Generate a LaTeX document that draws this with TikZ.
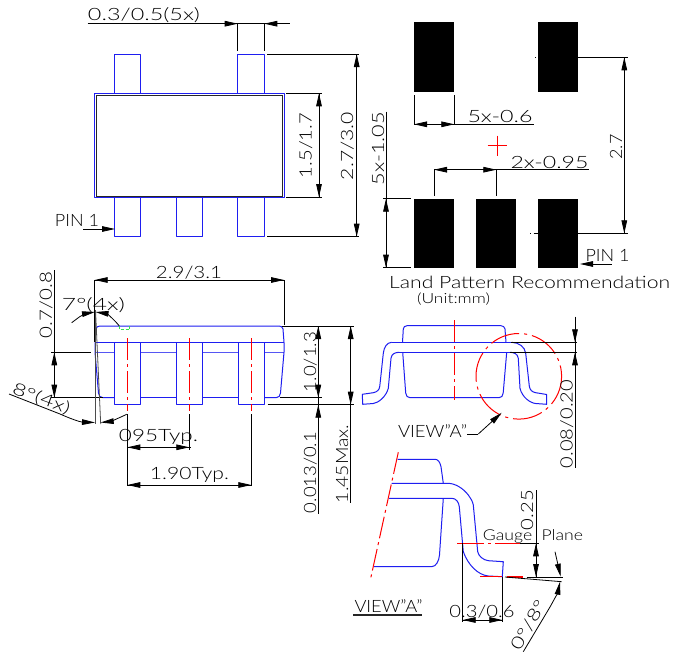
\documentclass[tikz,border=0pt]{standalone}
\usepackage{fontspec}
\usepackage{graphicx}
\setmainfont{Lato}[UprightFont=* Light]
\usetikzlibrary{arrows.meta}
\definecolor{cadblue}{RGB}{30,30,240}
\definecolor{cadred}{RGB}{255,0,0}
\definecolor{cadgreen}{RGB}{50,225,80}
\newcommand{\fitw}[2]{\resizebox{#1pt}{\height}{#2}}
\tikzset{
  dimline/.style={draw=black,line width=0.8pt},
  bluel/.style={draw=cadblue,line width=1pt,line join=round},
  redcl/.style={draw=cadred,line width=1pt,dash pattern=on 22pt off 4pt on 3pt off 4pt},
  redsolid/.style={draw=cadred,line width=1.3pt},
  tipped/.style={dimline,-{Triangle[length=13pt,width=5.6pt]}},
  txt/.style={inner sep=0pt,outer sep=0pt,text height=12pt,text depth=0pt,font=\fontsize{17}{17}\selectfont,text=black},
  smalltxt/.style={txt,text height=9.5pt,font=\fontsize{14}{14}\selectfont},
  pad/.style={fill=black,draw=none},
}
\begin{document}
\begin{tikzpicture}[x=1pt,y=-1pt]
\useasboundingbox (0,0) rectangle (673,653);
\fill[white] (0,0) rectangle (673,653);

% ---------- top view ----------
\foreach \xa/\xb in {114/140.3,237.7/264.3}
  \draw[bluel] (\xa,93.3) -- (\xa,54) -- (\xb,54) -- (\xb,93.3);
\foreach \xa/\xb in {114/140.3,176/202.3,237.7/264.3}
  \draw[bluel] (\xa,197.3) -- (\xa,236.7) -- (\xb,236.7) -- (\xb,197.3);
\draw[bluel] (94.7,93.3) rectangle (284,197.3);
\draw[draw=black!85,line width=1pt] (96,95) rectangle (282.3,196.5);

\node[txt] (t03) at (144,14.5) {\fitw{112}{0.3/0.5(5x)}};
\draw[dimline] (87.7,23.7) -- (290,23.7);
\draw[dimline] (237.7,23.7) -- (237.7,51);
\draw[dimline] (264.3,23.7) -- (264.3,51);
\draw[tipped] (224,23.7) -- (237.7,23.7);
\draw[tipped] (278,23.7) -- (264.3,23.7);

\draw[dimline] (267,54) -- (359,54);
\draw[dimline] (267,236.7) -- (359,236.7);
\draw[tipped] (356.7,70) -- (356.7,54);
\draw[tipped] (356.7,220) -- (356.7,236.7);
\draw[dimline] (356.7,54) -- (356.7,236.7);
\node[txt,rotate=90] (t27) at (347,146) {\fitw{68}{2.7/3.0}};

\draw[dimline] (286,93.3) -- (322,93.3);
\draw[dimline] (286,197) -- (322,197);
\draw[dimline] (319,93.3) -- (319,197);
\draw[tipped] (319,109) -- (319,93.3);
\draw[tipped] (319,181) -- (319,197);
\node[txt,rotate=90] (t15) at (305.5,145.5) {\fitw{65}{1.5/1.7}};

\node[txt] (pina) at (77,220) {\fitw{44}{PIN 1}};
\draw[dimline] (83,229) -- (100,229);
\draw[tipped] (100,229) -- (115,229);

% ---------- land pattern ----------
\foreach \xa/\xb in {414/454.3,538/578.3}
  \fill[pad] (\xa,22.3) rectangle (\xb,92.3);
\foreach \xa/\xb in {414/454.3,476/516.3,538/578.3}
  \fill[pad] (\xa,198.7) rectangle (\xb,268.3);

\draw[dimline] (414,95) -- (414,124.3);
\draw[dimline] (454.3,95) -- (454.3,124.3);
\draw[dimline] (414,124.3) -- (534,124.3);
\draw[tipped] (428,124.3) -- (414,124.3);
\draw[tipped] (441,124.3) -- (454.3,124.3);
\node[txt] (t56) at (500,116) {\fitw{65}{5x-0.6}};

\draw[redsolid] (487.5,145.5) -- (507,145.5);
\draw[redsolid] (497.5,135.5) -- (497.5,155.5);

\draw[dimline] (434,169.7) -- (589.3,169.7);
\draw[dimline] (434,169.7) -- (434,195.7);
\draw[dimline] (496.3,169.7) -- (496.3,195.7);
\draw[tipped] (448,169.7) -- (434,169.7);
\draw[tipped] (483,169.7) -- (496.3,169.7);
\node[txt] (t29) at (549.5,162) {\fitw{78}{2x-0.95}};

\draw[dimline] (578.3,57.3) -- (627.7,57.3);
\draw[dimline] (578.3,233.3) -- (627.7,233.3);
\draw[dimline] (624.3,57.3) -- (624.3,233.3);
\draw[tipped] (624.3,71) -- (624.3,57.3);
\draw[tipped] (624.3,220) -- (624.3,233.3);
\node[txt,rotate=90] (t2p7) at (616,147) {\fitw{25}{2.7}};
\draw[dimline] (535,57.3) -- (536,57.3);
\draw[dimline] (530,233.3) -- (531,233.3) (533.5,233.3) -- (538,233.3);

\draw[dimline] (386,111.7) -- (386,267.7);
\draw[dimline] (383,198.7) -- (411,198.7);
\draw[dimline] (383,267.7) -- (411,267.7);
\draw[tipped] (386,213) -- (386,198.7);
\draw[tipped] (386,253) -- (386,267.7);
\node[txt,rotate=90] (t5105) at (378,148.5) {\fitw{73}{5x-1.05}};

\node[txt] (pinb) at (607.5,255.5) {\fitw{44}{PIN 1}};
\draw[dimline] (594,264) -- (611.7,264);
\draw[tipped] (594,264) -- (580,264);

\node[txt] (lpr) at (529.7,282) {\fitw{281}{Land Pattern Recommendation}};
\node[smalltxt] (unit) at (453.5,299) {\fitw{73}{(Unit:mm)}};

% ---------- side view ----------
\draw[bluel] (95,342.3) -- (96,329) .. controls (96.3,327) and (98,326) .. (100,326)
  -- (279,326) .. controls (281,326) and (282.5,327) .. (283,329) -- (284,342.3);
\draw[bluel] (95,342.3) -- (284,342.3);
\draw[bluel] (95,342.3) -- (95,352.3) -- (98.5,393) .. controls (99,396) and (100,397.7) .. (103,397.7) -- (114.3,397.7);
\draw[bluel] (284,342.3) -- (284,352.3) -- (280.5,393) .. controls (280,396) and (279,397.7) .. (276,397.7) -- (264.3,397.7);
\draw[bluel,draw opacity=.75] (95,352.3) -- (114.3,352.3) (140.7,352.3) -- (176.3,352.3) (202.3,352.3) -- (238,352.3) (264.3,352.3) -- (284,352.3);
\draw[bluel] (140.7,397.7) -- (176.3,397.7) (202.3,397.7) -- (238,397.7);
\foreach \xa/\xb in {114.3/140.7,176.3/202.3,238/264.3}
  \draw[bluel] (\xa,342.3) rectangle (\xb,404.7);
\foreach \xc in {127.4,189.3,251.3}
  \draw[redcl] (\xc,338) -- (\xc,411);
\draw[draw=cadgreen,line width=0.7pt,dash pattern=on 3pt off 2pt] (119.3,326) -- (119.3,329.7) -- (129.7,329.7) -- (129.7,326);

\draw[dimline] (94.7,280) -- (284,280);
\draw[dimline] (94.7,280) -- (94.7,342);
\draw[dimline] (284,280) -- (284,325);
\draw[tipped] (108,280) -- (94.7,280);
\draw[tipped] (270,280) -- (284,280);
\node[txt] (t29b) at (189,272.5) {\fitw{66}{2.9/3.1}};

\draw[dimline] (54.3,270) -- (54.3,397.7);
\draw[dimline] (51,352.3) -- (91,352.3);
\draw[dimline] (51,397.7) -- (103,397.7);
\draw[tipped] (54.3,366) -- (54.3,352.3);
\draw[tipped] (54.3,384) -- (54.3,397.7);
\node[txt,rotate=90] (t07) at (46,305) {\fitw{66}{0.7/0.8}};

\node[txt] (t7) at (93.5,304) {\fitw{63}{7°(4x)}};
\draw[draw=black!70,line width=0.8pt] (95,310) -- (95,424);
\draw[draw=black!70,line width=0.8pt] (95.5,310) -- (100.7,424);
\draw[tipped] (71.7,322.7) -- (80,316.5) .. controls (84,314) and (89,313) .. (95,312);
\draw[tipped] (119.3,326) .. controls (113,318) and (106,313.5) .. (95.5,312);

\node[txt,rotate=-20] (t8) at (41.7,398.5) {\fitw{60}{8°(4x)}};
\draw[tipped] (9,394) -- (60,414) .. controls (70,418.5) and (80,422) .. (95,422.5);
\draw[tipped] (126.7,414.3) .. controls (118,418.5) and (110,421.5) .. (100.7,422.5);

\draw[dimline] (282,326) -- (354,326);
\draw[dimline] (280,397.7) -- (322,397.7);
\draw[dimline] (267.7,404.7) -- (354,404.7);
\draw[dimline] (318.3,326) -- (318.3,514);
\draw[tipped] (318.3,340) -- (318.3,326);
\draw[tipped] (318.3,384) -- (318.3,397.7);
\draw[tipped] (318.3,418) -- (318.3,404.7);
\node[txt,rotate=90] (t10) at (310,362) {\fitw{60}{1.0/1.3}};
\node[txt,rotate=90] (t013) at (310,472.5) {\fitw{81}{0.013/0.1}};

\draw[dimline] (350.7,326) -- (350.7,503);
\draw[tipped] (350.7,340) -- (350.7,326);
\draw[tipped] (350.7,391) -- (350.7,404.7);
\node[txt,rotate=90] (t145) at (342,464) {\fitw{78}{1.45Max.}};

\draw[dimline] (127.3,414) -- (127.3,486);
\draw[dimline] (189.3,414) -- (189.3,450);
\draw[dimline] (251.3,414) -- (251.3,486);
\draw[dimline] (127.3,447.3) -- (191,447.3);
\draw[dimline] (127.3,485) -- (251.3,485);
\draw[tipped] (141,447.3) -- (127.3,447.3);
\draw[tipped] (176,447.3) -- (189.3,447.3);
\draw[tipped] (141,485) -- (127.3,485);
\draw[tipped] (238,485) -- (251.3,485);
\node[txt] (t095) at (158.5,435) {\fitw{79}{095Typ.}};
\node[txt] (t190) at (189.5,473) {\fitw{79}{1.90Typ.}};

% ---------- front view ----------
\draw[bluel] (402.5,342.3) -- (403.3,329) .. controls (403.5,327) and (405,325.7) .. (407,325.7)
  -- (501,325.7) .. controls (503,325.7) and (504.7,327) .. (505,329) -- (506,342.3);
\draw[bluel] (402.7,352.3) -- (405.7,393) .. controls (406,396) and (407.5,397.7) .. (410,397.7)
  -- (499,397.7) .. controls (501.5,397.7) and (502.8,396) .. (503.2,393) -- (506.7,352.3);
\draw[bluel] (391.7,342.3) -- (511.7,342.3);
\draw[bluel] (399.3,352.3) -- (510,352.3);
% left lead
\draw[bluel] (391.7,342.3) .. controls (387,342.5) and (384,347) .. (383.3,353.3)
  -- (379.8,386) .. controls (379.5,390) and (377,392) .. (373.3,392.7) -- (362.3,394.3) -- (362.7,404.3)
  -- (373.3,403.5) .. controls (378,403) and (386,397) .. (388.3,388.3)
  -- (391,358.3) .. controls (391.5,354) and (395,352.3) .. (399.3,352.3);
% right lead
\draw[bluel] (511.7,342.3) .. controls (519,342.5) and (525,347) .. (525.7,353.3)
  -- (529.3,386) .. controls (529.8,390) and (532,392) .. (535.7,392.7) -- (546.7,394.5) -- (546.7,404.3)
  -- (535.7,403.5) .. controls (530,403) and (522,397) .. (520,388.3)
  -- (518.3,358.3) .. controls (517.8,354) and (514,352.3) .. (510,352.3);
\draw[redcl] (454.3,320) -- (454.3,400);
\draw[draw=cadred,line width=1pt,dash pattern=on 30pt off 5pt on 3pt off 5pt] (518.8,376.3) circle (42.8);

\node[txt] (va) at (432.5,431) {\fitw{69}{VIEW"A"}};
\draw[dimline] (467,434) -- (478.3,434);
\draw[tipped] (478.3,434) -- (501.7,412.7);

\draw[dimline] (575,316.7) -- (575,468.3);
\draw[dimline] (511,342.3) -- (577,342.3);
\draw[dimline] (510,352.3) -- (577,352.3);
\draw[tipped] (575,329) -- (575,342.3);
\draw[tipped] (575,366) -- (575,352.3);
\node[txt,rotate=90] (t008) at (566.7,424) {\fitw{88}{0.08/0.20}};

% ---------- view A ----------
\draw[redcl] (398.3,452.3) -- (370.7,578.3);
\draw[bluel] (397.7,459.3) -- (435,459.3) .. controls (438,459.3) and (440,462) .. (441,466.7) -- (443.3,483.3);
\draw[bluel] (443.3,498.3) -- (439.5,555) .. controls (439,561) and (436,566.7) .. (431.7,566.7) -- (374,566.7);
\draw[bluel] (391.7,483.3) -- (448.3,483.3) .. controls (455,483.5) and (463,488) .. (468.3,495)
  .. controls (471,499) and (472.5,501) .. (473.3,505)
  -- (477.7,551.7) .. controls (478.5,556) and (483,560) .. (488.3,560.7) -- (503.3,561.7) -- (502.3,576.7)
  -- (488.3,576) .. controls (478,575) and (468,565) .. (463.3,551.7)
  -- (459.3,506.7) .. controls (458.8,502) and (456,498.3) .. (451.7,498.3) -- (389,498.3);

\draw[draw=cadred,line width=1.3pt,dash pattern=on 27pt off 4pt on 3pt off 4pt] (457.3,543.5) -- (520,543.5);
\draw[dimline] (520,543.3) -- (539,543.3);
\draw[redsolid] (480,576.7) -- (502,576.7);
\draw[redsolid] (507,577) -- (523,577);
\draw[dimline] (526.7,577) -- (562.7,577);
\draw[dimline] (505,577) -- (561.7,581.7);
\draw[dimline] (462.7,543.3) -- (462.7,621.7);
\draw[dimline] (502.3,577) -- (502.3,621.7);
\draw[dimline] (462.7,620) -- (502.3,620);
\draw[tipped] (476,620) -- (462.7,620);
\draw[tipped] (489,620) -- (502.3,620);
\node[txt] (t36) at (482,611) {\fitw{65}{0.3/0.6}};
\draw[dimline] (536,490) -- (536,577);
\draw[tipped] (536,557) -- (536,543.3);
\draw[tipped] (536,563) -- (536,577);
\node[txt,rotate=90] (t25) at (527,510) {\fitw{40}{0.25}};
\node[smalltxt,text height=10.5pt,font=\fontsize{15}{15}\selectfont] (gp) at (533,535) {\fitw{100}{Gauge\hspace{8pt}Plane}};
\draw[tipped] (523.3,651.7) -- (550,607) .. controls (555,598) and (558,592) .. (560,581.7);
\draw[tipped] (555,551.7) -- (560.7,576.7);
\node[txt,rotate=60] (t08) at (528.3,625) {\fitw{54}{0°/8°}};

\node[txt] (vb) at (388.5,606.5) {\fitw{68}{VIEW"A"}};
\draw[draw=black!85,line width=1.5pt] (353,615) -- (422,615);
\end{tikzpicture}
\end{document}
